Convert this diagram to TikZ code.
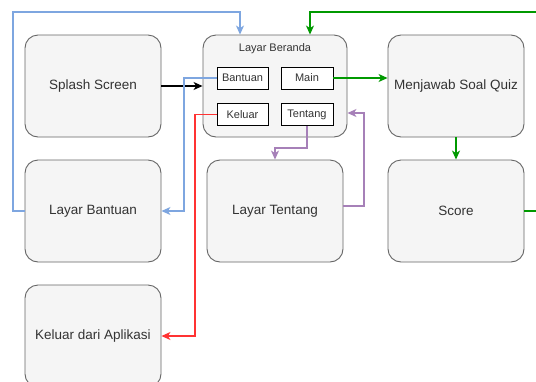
\documentclass[tikz,border=0pt]{standalone}
\usepackage{fontspec}
\setmainfont{Liberation Sans}
\usetikzlibrary{arrows.meta,calc}
\definecolor{boxfill}{HTML}{F5F5F5}
\definecolor{boxline}{HTML}{666666}
\definecolor{txt}{HTML}{333333}
\definecolor{cblue}{HTML}{7EA6E0}
\definecolor{cred}{HTML}{FF3333}
\definecolor{cgreen}{HTML}{009900}
\definecolor{cpurple}{HTML}{A680B8}
\tikzset{
  screen/.style={draw=boxline, fill=boxfill, rounded corners=13pt, line width=0.9pt,
    minimum width=136pt, minimum height=102pt, inner sep=0pt, text=txt,
    font=\fontsize{13.5}{15}\selectfont},
  menu/.style={draw=black, fill=white, line width=0.9pt, minimum width=51pt,
    minimum height=22pt, inner sep=0pt, text=txt, font=\fontsize{11}{12}\selectfont},
  link/.style={line width=1.1pt, -{Stealth[length=9pt,width=8pt,inset=2.5pt]}},
}
\begin{document}
\begin{tikzpicture}[x=1pt,y=-1pt]
\clip (0,0) rectangle (536,381);
\fill[white] (0,0) rectangle (536,381);

% screens
\node[screen] (splash) at (93,86) {Splash Screen};
\node[screen] (bantuan) at (93,211) {Layar Bantuan};
\node[screen] (keluar) at (93,336) {Keluar dari Aplikasi};
\node[screen, minimum width=144pt] (beranda) at (275,86) {};
\node[text=txt, font=\fontsize{11}{12}\selectfont] (judul) at (275,49) {Layar Beranda};
\node[screen] (tentang) at (275,211) {Layar Tentang};
\node[screen] (quiz) at (456,86) {Menjawab Soal Quiz};
\node[screen] (score) at (456,211) {Score};

% menu buttons on the home screen
\node[menu] (mbantuan) at (242.5,78) {Bantuan};
\node[menu, minimum width=52pt] (mmain) at (307,78) {Main};
\node[menu] (mkeluar) at (242.5,114.5) {Keluar};
\node[menu, minimum width=52pt] (mtentang) at (307,114.5) {Tentang};

% bend points
\coordinate (b1) at (13,12);
\coordinate (b2) at (184,211);
\coordinate (r1) at (195,336);
\coordinate (g1) at (310,12);
\coordinate (p2) at (364,206);

% connectors
\draw[link, black] (splash.east) -- (beranda.west);
\draw[link, cblue] (bantuan.west) -| (b1) -| ([xshift=-35pt]beranda.north);
\draw[link, cblue] (mbantuan.west) -| (b2) -- (bantuan.east);
\draw[link, cred] (mkeluar.west) -| (r1) -- (keluar.east);
\draw[link, cgreen] (mmain.east) -- (mmain.east -| quiz.west);
\draw[link, cgreen] (quiz.south) -- (score.north);
\draw[link, cgreen] (score.east) -- ++(30,0) |- (g1) -- (g1 |- beranda.north);
\draw[link, cpurple] (mtentang.south) -- ++(0,22) -| (tentang.north);
\draw[link, cpurple] ($(tentang.east)+(0,-5)$) -- (p2) |- ($(beranda.east)+(0,27)$);
\end{tikzpicture}
\end{document}
